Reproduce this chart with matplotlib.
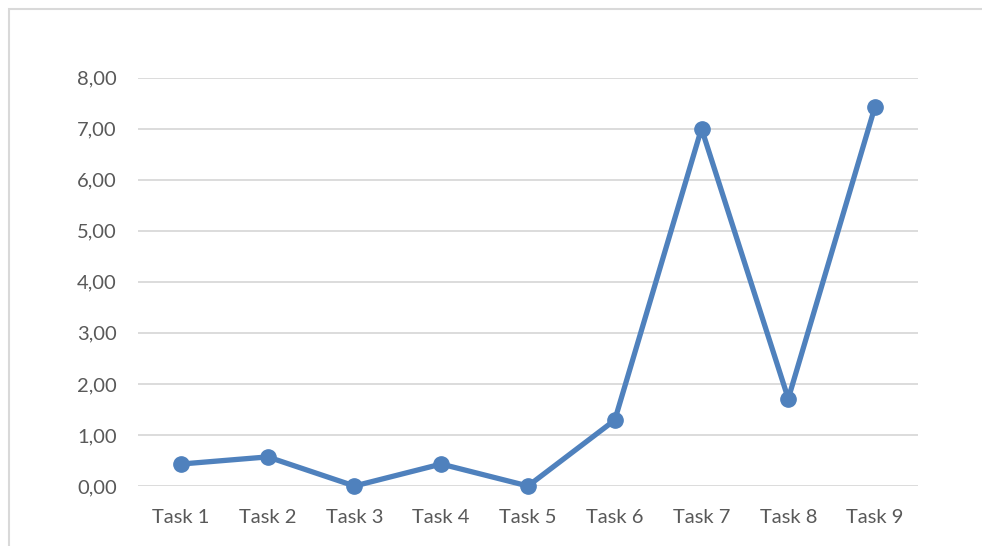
import matplotlib.pyplot as plt
from matplotlib.patches import Rectangle

tasks = ['Task 1', 'Task 2', 'Task 3', 'Task 4', 'Task 5', 'Task 6', 'Task 7', 'Task 8', 'Task 9']
values = [0.43, 0.57, 0.00, 0.43, 0.00, 1.29, 7.00, 1.71, 7.43]
yticks = [0, 1, 2, 3, 4, 5, 6, 7, 8]

plt.rcParams['font.family'] = ['Lato', 'DejaVu Sans']

fig = plt.figure(figsize=(9.82, 5.46), dpi=100)
W, H = 982, 546
ax = fig.add_axes([137.6 / W, 1 - 486 / H, (918.4 - 137.6) / W, (486 - 77.5) / H])

x = list(range(len(tasks)))
ax.plot(x, values, color='#4F81BD', linewidth=3.8, marker='o', markersize=11,
        solid_capstyle='round', zorder=3, clip_on=False)

ax.set_xlim(-0.5, len(tasks) - 0.5)
ax.set_ylim(0, 8)
ax.set_yticks(yticks)
ax.set_yticklabels(['{:.2f}'.format(v).replace('.', ',') for v in yticks])
ax.set_xticks(x)
ax.set_xticklabels(tasks)
ax.grid(axis='y', color='#D9D9D9', linewidth=1.3)
ax.set_axisbelow(True)
for s in ax.spines.values():
    s.set_visible(False)
ax.tick_params(axis='both', length=0, labelsize=14.5, colors='#595959')
ax.tick_params(axis='y', pad=15)
ax.tick_params(axis='x', pad=16.5)

# chart area border (cropped at right and bottom)
fig.patches.append(Rectangle((9 / W, -0.1), 1.2, 1 - 9 / H + 0.1, transform=fig.transFigure,
                             fill=False, edgecolor='#D9D9D9', linewidth=1.5))

fig.savefig('out.png', dpi=100)
